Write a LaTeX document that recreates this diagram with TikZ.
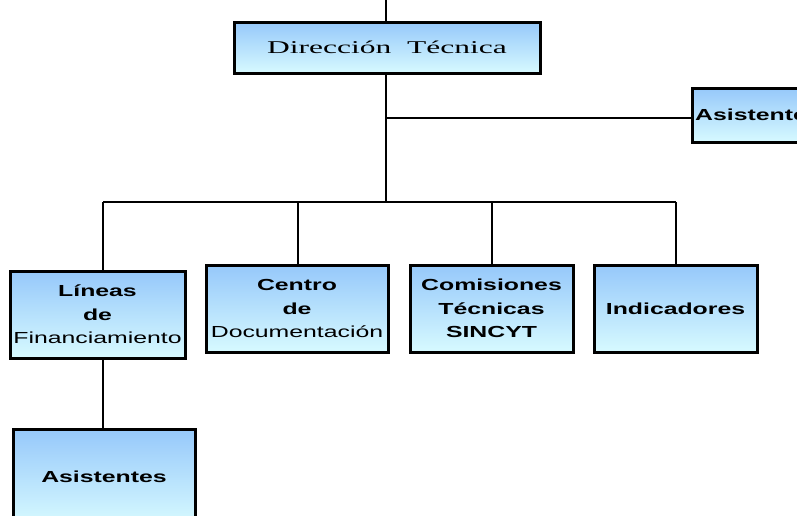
\documentclass[tikz,border=0pt]{standalone}
\usepackage{fontspec}
\usepackage{tikz}
\usetikzlibrary{positioning}
\usepackage{xcolor}

\setmainfont{Liberation Serif}
\newfontfamily\boxfont[FakeStretch=1.55]{Liberation Sans}
\newfontfamily\titlefont[FakeStretch=1.75]{Liberation Serif}
\definecolor{boxtop}{RGB}{150,200,250}
\definecolor{boxbottom}{RGB}{215,250,255}

\tikzset{
    orgbox/.style={rectangle, draw=black, line width=3pt, top color=boxtop, bottom color=boxbottom, inner sep=0pt, align=center, font=\boxfont\fontsize{16}{23.5}\selectfont},
    link/.style={line width=2pt}
}

\begin{document}
\begin{tikzpicture}[x=1pt, y=1pt]
    \useasboundingbox (0,0) rectangle (797,-515);
    \clip (0,0) rectangle (797,-515);

    % Draw the boxes
    \node[orgbox, minimum width=306pt, minimum height=51pt, font=\titlefont\fontsize{18}{20}\selectfont] (dir) at (387,-47.5) {Dirección\ \ Técnica};
    \node[orgbox, minimum width=118pt, minimum height=54pt] (asist) at (751,-115) {\textbf{Asistente}};
    \node[orgbox, minimum width=175pt, minimum height=87pt] (lin) at (97.5,-314.5) {\textbf{Líneas}\\\textbf{de}\\Financiamiento};
    \node[orgbox, minimum width=182pt, minimum height=87pt] (cen) at (297,-308.5) {\textbf{Centro}\\\textbf{de}\\Documentación};
    \node[orgbox, minimum width=163pt, minimum height=87pt] (com) at (491.5,-308.5) {\textbf{Comisiones}\\\textbf{Técnicas}\\\textbf{SINCYT}};
    \node[orgbox, minimum width=163pt, minimum height=87pt] (ind) at (675.5,-308.5) {\textbf{Indicadores}};
    \node[orgbox, minimum width=182pt, minimum height=96pt] (asis) at (104,-477) {\textbf{Asistentes}};

    % Draw the connectors
    \coordinate (top) at (386,0);
    \coordinate (tee) at (386,-118);
    \coordinate (bar) at (386,-202);
    \coordinate (barl) at (103,-202);
    \coordinate (barr) at (676,-202);
    \draw[link] (top) -- (dir.north -| top);
    \draw[link] (dir.south -| top) -- (bar);
    \draw[link] (tee) -- (tee -| asist.west);
    \draw[link] (barl) -- (barr);
    \draw[link] (barl) -- (barl |- lin.north);
    \draw[link] (298,-202) -- (cen.north -| 298,0);
    \draw[link] (492,-202) -- (com.north -| 492,0);
    \draw[link] (barr) -- (barr |- ind.north);
    \draw[link] (lin.south -| barl) -- (asis.north -| barl);
\end{tikzpicture}
\end{document}
